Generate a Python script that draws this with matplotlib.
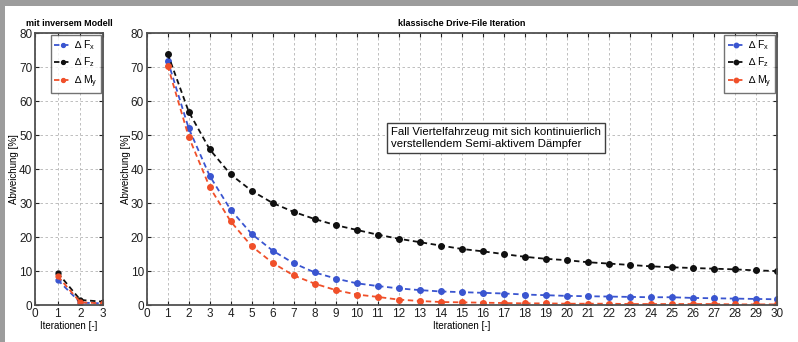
import matplotlib
matplotlib.use("Agg")
import matplotlib.pyplot as plt
from matplotlib.patches import Rectangle

plt.rcParams['font.family'] = ['Liberation Sans', 'DejaVu Sans']
plt.rcParams['mathtext.fontset'] = 'custom'
plt.rcParams['mathtext.rm'] = 'Liberation Sans'
plt.rcParams['mathtext.it'] = 'Liberation Sans'

# --- data: inverse model (iterations 1..3)
inv_iter = [1, 2, 3]
inv_fx = [7.4, 0.7, 0.5]
inv_fz = [9.5, 1.5, 1.0]
inv_my = [8.5, 0.8, 0.5]

# --- data: classic drive-file iteration (iterations 1..30)
cls_iter = list(range(1, 31))
cls_fx = [71.9, 52.0, 38.0, 28.0, 20.9, 16.0, 12.3, 9.6, 7.8, 6.4,
          5.6, 4.9, 4.4, 4.0, 3.8, 3.6, 3.4, 3.1, 2.9, 2.7,
          2.6, 2.5, 2.4, 2.3, 2.3, 2.1, 2.0, 1.9, 1.8, 1.7]
cls_fz = [73.9, 56.9, 45.8, 38.4, 33.6, 30.0, 27.4, 25.3, 23.5, 22.1,
          20.7, 19.5, 18.5, 17.5, 16.5, 15.8, 15.0, 14.2, 13.6, 13.2,
          12.6, 12.2, 11.8, 11.4, 11.1, 10.9, 10.7, 10.5, 10.2, 10.0]
cls_my = [70.4, 49.5, 34.7, 24.6, 17.3, 12.4, 8.7, 6.3, 4.4, 3.1,
          2.4, 1.6, 1.2, 0.9, 0.8, 0.7, 0.6, 0.5, 0.5, 0.4,
          0.4, 0.4, 0.3, 0.3, 0.3, 0.3, 0.3, 0.2, 0.2, 0.2]

labels = ['\u2206 F$_x$', '\u2206 F$_z$', '\u2206 M$_y$']
colors = ['#3a55d0', '#101010', '#f0502a']

fig = plt.figure(figsize=(7.98, 3.42), dpi=100)
fig.patch.set_facecolor('#9c9c9c')
fig.patches.append(Rectangle((5 / 798, 0), 1, 1 - 6 / 342, transform=fig.transFigure,
                             facecolor='white', edgecolor='none', zorder=-10))

ax1 = fig.add_axes([0.0439, 0.108, 0.0852, 0.7955])
ax2 = fig.add_axes([0.1838, 0.108, 0.7895, 0.7955])


def style(ax, xmax):
    ax.set_xlim(0, xmax)
    ax.set_ylim(0, 80)
    ax.set_xticks(range(0, xmax + 1))
    ax.set_yticks(range(0, 81, 10))
    ax.grid(True, color='#b4b4b4', linestyle=(0, (3, 3)), linewidth=0.6)
    ax.tick_params(direction='in', length=3, width=0.8, top=True, right=True,
                   labelsize=8.5, pad=2, colors='#202020')
    for s in ax.spines.values():
        s.set_color('#505050')
        s.set_linewidth(1.3)
    ax.set_ylabel('Abweichung [%]', fontsize=7, labelpad=0)
    ax.set_xlabel('Iterationen [-]', fontsize=7, labelpad=1)


def draw(ax, x, series, ms):
    for y, c, lab in zip(series, colors, labels):
        ax.plot(x, y, linestyle='--', color=c, marker='o', markersize=ms,
                markerfacecolor=c, markeredgecolor=c, linewidth=1.3,
                dashes=(3, 2), label=lab)


draw(ax1, inv_iter, [inv_fx, inv_fz, inv_my], 3.5)
draw(ax2, cls_iter, [cls_fx, cls_fz, cls_my], 4)
style(ax1, 3)
style(ax2, 30)

ax1.set_title('mit inversem Modell', fontsize=6.5, fontweight='bold', pad=5)
ax2.set_title('klassische Drive-File Iteration', fontsize=6.5, fontweight='bold', pad=5)

for ax in (ax1, ax2):
    leg = ax.legend(loc='upper right', fontsize=7.5, frameon=True, fancybox=False,
                    edgecolor='#505050', borderpad=0.3, handlelength=1.7,
                    handletextpad=0.25, labelspacing=0.35, borderaxespad=0.2,
                    markerscale=0.8)
    leg.get_frame().set_linewidth(1.0)

ax2.text(0.388, 0.655, 'Fall Viertelfahrzeug mit sich kontinuierlich\nverstellendem Semi-aktivem D\u00e4mpfer',
         transform=ax2.transAxes, fontsize=8.2, va='top', ha='left', linespacing=1.25,
         bbox=dict(boxstyle='square,pad=0.35', facecolor='white', edgecolor='#404040', linewidth=1.0))

fig.savefig('out.png', dpi=100, facecolor=fig.get_facecolor())
